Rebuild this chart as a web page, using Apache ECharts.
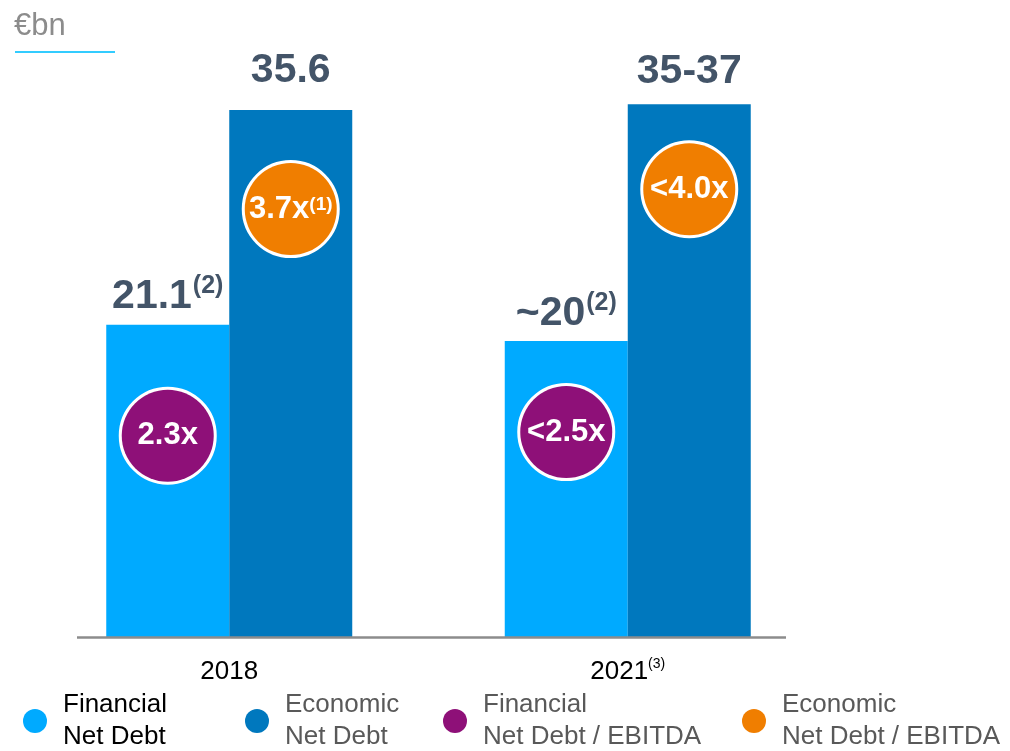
<!DOCTYPE html>
<html>
<head>
<meta charset="utf-8">
<script src="https://cdn.jsdelivr.net/npm/echarts@6/dist/echarts.min.js"></script>
<style>
  html, body { margin: 0; padding: 0; background: #ffffff; }
  #chart { width: 1010px; height: 751px; }
</style>
</head>
<body>
<div id="chart"></div>
<script>
// Net debt, €bn
const categories = ['2018', '2021'];
const categoryNotes = ['', '(3)'];

const financialDebt = [21.1, 20];
const financialLabels = ['21.1', '~20'];
const financialNotes = ['(2)', '(2)'];

const economicDebt = [35.6, 36];
const economicLabels = ['35.6', '35-37'];
const economicNotes = ['', ''];

// Leverage ratios shown as badges on the bars
const financialRatio = ['2.3x', '<2.5x'];
const financialRatioNotes = ['', ''];
const economicRatio = ['3.7x', '<4.0x'];
const economicRatioNotes = ['(1)', ''];

const seriesNames = [
  'Financial Net Debt',
  'Economic Net Debt',
  'Financial Net Debt / EBITDA',
  'Economic Net Debt / EBITDA'
];

// ---- styling ----
const FONT = '"Liberation Sans", Arial, sans-serif';
const C_LIGHT = '#00aaff';
const C_DARK = '#0078be';
const C_PURPLE = '#8e1078';
const C_ORANGE = '#f07e00';
const C_VALUE = '#435468';

const finLabelGap = [5, 4];
const ecoLabelGap = [16, 10];
const finBadgeDrop = [111, 91];
const ecoBadgeDrop = [99, 85];
const legendLeft = [23, 245, 443, 742];

const valueRich = {
  m: { fontFamily: FONT, fontSize: 41, fontWeight: 'bold', color: C_VALUE, lineHeight: 46 },
  s: { fontFamily: FONT, fontSize: 25, fontWeight: 'bold', color: C_VALUE, lineHeight: 37, verticalAlign: 'top', padding: [0, 0, 0, 1] }
};

function valueText(labels, notes) {
  return p => '{m|' + labels[p.dataIndex] + '}' + (notes[p.dataIndex] ? '{s|' + notes[p.dataIndex] + '}' : '');
}

function badgeLabel(color, texts, notes) {
  return {
    show: true,
    align: 'center',
    verticalAlign: 'middle',
    width: 92,
    backgroundColor: color,
    borderColor: '#ffffff',
    borderWidth: 3,
    borderRadius: 46,
    padding: 0,
    formatter: p => '{m|' + texts[p.dataIndex] + '}' + (notes[p.dataIndex] ? '{s|' + notes[p.dataIndex] + '}' : ''),
    rich: {
      m: { fontFamily: FONT, fontSize: 31, fontWeight: 'bold', color: '#ffffff', lineHeight: 92, align: 'center' },
      s: { fontFamily: FONT, fontSize: 19, fontWeight: 'bold', color: '#ffffff', align: 'center', padding: [0, 0, 8, 0] }
    }
  };
}

const chart = echarts.init(document.getElementById('chart'), null, { renderer: 'canvas' });

const option = {
  animation: false,
  backgroundColor: '#ffffff',
  title: {
    text: '€bn',
    left: 14,
    top: 11,
    padding: 0,
    textStyle: { fontFamily: FONT, fontSize: 31, fontWeight: 'normal', color: '#8c8c8c' }
  },
  grid: { left: 30, right: 183, top: 45, bottom: 114, containLabel: false },
  xAxis: {
    type: 'category',
    data: categories,
    axisLine: { show: false },
    axisTick: { show: false },
    axisLabel: {
      margin: 20,
      formatter: (v, i) => '{a|' + v + '}' + (categoryNotes[i] ? '{s|' + categoryNotes[i] + '}' : ''),
      rich: {
        a: { fontFamily: FONT, fontSize: 26, color: '#000000', lineHeight: 30 },
        s: { fontFamily: FONT, fontSize: 14, color: '#000000', lineHeight: 24, verticalAlign: 'top' }
      }
    }
  },
  yAxis: { type: 'value', min: 0, max: 40, show: false, splitLine: { show: false } },
  legend: seriesNames.map((name, i) => ({
    data: [name],
    left: legendLeft[i],
    top: 689,
    padding: 0,
    icon: 'circle',
    itemWidth: 46,
    itemHeight: 24,
    selectedMode: false,
    formatter: n => n.replace(' ', '\n'),
    textStyle: { fontFamily: FONT, fontSize: 26, lineHeight: 32, color: i === 0 ? '#000000' : '#595959' }
  })),
  series: [
    {
      name: seriesNames[0],
      type: 'bar',
      stack: 'fin',
      stackStrategy: 'all',
      barWidth: 123,
      barGap: 0,
      itemStyle: { color: C_LIGHT },
      emphasis: { disabled: true },
      label: { show: true, position: 'top', formatter: valueText(financialLabels, financialNotes), rich: valueRich },
      data: financialDebt.map((v, i) => ({ value: v, label: { distance: finLabelGap[i] } }))
    },
    {
      name: seriesNames[1],
      type: 'bar',
      stack: 'eco',
      stackStrategy: 'all',
      barWidth: 123,
      barGap: 0,
      itemStyle: { color: C_DARK },
      emphasis: { disabled: true },
      label: { show: true, position: 'top', formatter: valueText(economicLabels, economicNotes), rich: valueRich },
      data: economicDebt.map((v, i) => ({ value: v, label: { distance: ecoLabelGap[i] } }))
    },
    {
      // zero-height carrier stacked on the financial bar; holds the ratio badge
      name: seriesNames[2],
      type: 'bar',
      stack: 'fin',
      stackStrategy: 'all',
      barWidth: 123,
      barGap: 0,
      itemStyle: { color: C_PURPLE },
      emphasis: { disabled: true },
      label: badgeLabel(C_PURPLE, financialRatio, financialRatioNotes),
      data: financialRatio.map((t, i) => ({ value: 0, name: t, label: { position: ['50%', finBadgeDrop[i]] } }))
    },
    {
      name: seriesNames[3],
      type: 'bar',
      stack: 'eco',
      stackStrategy: 'all',
      barWidth: 123,
      barGap: 0,
      itemStyle: { color: C_ORANGE },
      emphasis: { disabled: true },
      label: badgeLabel(C_ORANGE, economicRatio, economicRatioNotes),
      data: economicRatio.map((t, i) => ({ value: 0, name: t, label: { position: ['50%', ecoBadgeDrop[i]] } }))
    }
  ]
};

chart.setOption(option);

// baseline rule and the underline below the unit caption
const baseY = Math.round(chart.convertToPixel({ yAxisIndex: 0 }, 0)) + 0.5;
chart.setOption({
  graphic: [
    { type: 'line', shape: { x1: 77, y1: baseY, x2: 786, y2: baseY }, style: { stroke: '#8c8c8c', lineWidth: 2.5 }, z: 10 },
    { type: 'line', shape: { x1: 15, y1: 52, x2: 115, y2: 52 }, style: { stroke: '#33ccff', lineWidth: 2 } }
  ]
});
</script>
</body>
</html>
